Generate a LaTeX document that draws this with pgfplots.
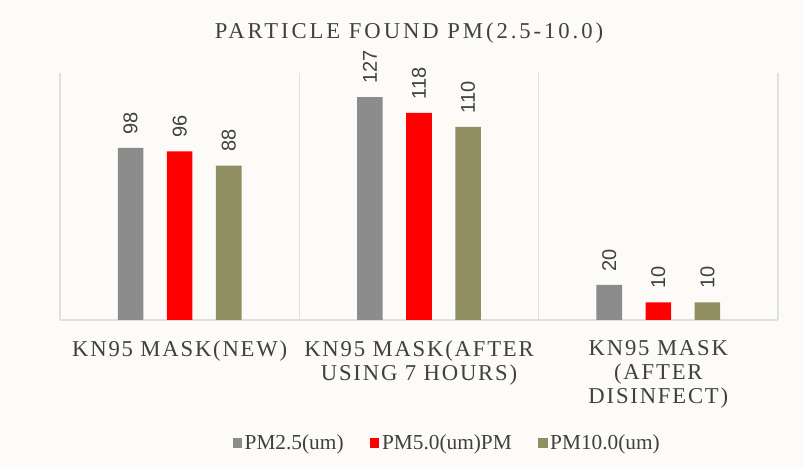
\documentclass[border=0pt]{standalone}
\usepackage{pgfplots}
\pgfplotsset{compat=1.18}
\usepackage{fontspec}
\setmainfont{Liberation Serif}
\newfontfamily\spaced[LetterSpace=8]{Liberation Serif}
\newfontfamily\spacedt[LetterSpace=13]{Liberation Serif}
\newfontfamily\sansf{Liberation Sans}
\definecolor{bg}{HTML}{FCFBF8}
\definecolor{cgray}{HTML}{8C8C8C}
\definecolor{cred}{HTML}{FF0000}
\definecolor{colive}{HTML}{8F8F63}
\definecolor{txt}{HTML}{404040}
\definecolor{gridc}{HTML}{E0E0E0}
\begin{document}
\begin{tikzpicture}
\fill[bg] (0,0) rectangle (603pt,351pt);
\node[text=txt, font=\spacedt\fontsize{17}{20}\selectfont] at (306.75pt,326.25pt) {PARTICLE FOUND PM(2.5-10.0)};
\begin{axis}[
  at={(45pt,111pt)}, anchor=south west,
  scale only axis, width=538.5pt, height=185.25pt,
  xmin=-0.5, xmax=2.5, ymin=0, ymax=140.7,
  ybar,
  /pgf/number format/assume math mode=true,
  axis y line=none,
  axis x line*=bottom,
  x axis line style={draw=gridc, line width=0.8pt, -},
  xtick={0,1,2},
  xticklabels={{KN95 MASK(NEW)},{KN95 MASK(AFTER\\USING 7 HOURS)},{KN95 MASK\\(AFTER\\DISINFECT)}},
  xticklabel style={align=center, text=txt, font=\spaced\fontsize{17}{18}\selectfont, yshift=-12pt},
  major tick length=0pt,
  minor xtick={-0.5,0.5,1.5,2.5},
  minor tick length=0pt,
  xminorgrids, minor grid style={draw=gridc, line width=0.8pt},
  bar width=0.107,
  nodes near coords={\sansf\pgfmathprintnumber{\pgfplotspointmeta}},
  nodes near coords style={rotate=90, anchor=west, font=\sansf\fontsize{15}{18}\selectfont, text=txt, inner sep=0pt, xshift=10pt},
  legend style={at={(0.54,-0.498)}, anchor=center, draw=none, fill=none, legend columns=3, font=\fontsize{16}{18}\selectfont, text=txt,
    /tikz/every even column/.append style={column sep=18pt}},
  legend image code/.code={\fill[#1] (0pt,-3.4pt) rectangle (6.8pt,3.4pt);},
]
\addplot[fill=cgray, draw=none, bar shift=-0.205] coordinates {(0,98) (1,127) (2,20)};
\addplot[fill=cred, draw=none, bar shift=0] coordinates {(0,96) (1,118) (2,10)};
\addplot[fill=colive, draw=none, bar shift=0.205] coordinates {(0,88) (1,110) (2,10)};
\legend{PM2.5(um),PM5.0(um)PM,PM10.0(um)}
\end{axis}
\end{tikzpicture}
\end{document}
